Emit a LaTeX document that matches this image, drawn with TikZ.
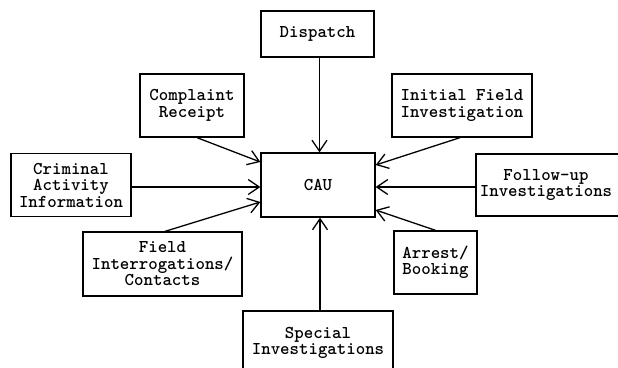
\documentclass[tikz,border=0pt]{standalone}
\usetikzlibrary{arrows.meta}
\begin{document}
\begin{tikzpicture}[x=1pt,y=-1pt,
  box/.style={draw=black, line width=1.3pt, fill=white, align=center,
    inner sep=0pt, font=\ttfamily\bfseries\fontsize{18}{16.5}\selectfont},
  arr/.style={line width=1.3pt, -{Straight Barb[length=11pt,width=15pt,line width=1.3pt]}}]
\useasboundingbox (0,0) rectangle (618,367);
\fill[white] (0,0) rectangle (618,367);

% surrounding activities
\node[box, minimum width=113pt, minimum height=46pt] (disp) at (317.5,34) {Dispatch};
\node[box, minimum width=104pt, minimum height=63pt] (comp) at (192,105.5) {Complaint\\Receipt};
\node[box, minimum width=140pt, minimum height=63pt] (init) at (462,105.5) {Initial Field\\Investigation};
\node[box, minimum width=120pt, minimum height=63pt] (crim) at (71,185) {Criminal\\Activity\\Information};
% this box runs past the right edge of the page; its text sits left of centre
\node[box, minimum width=170pt, minimum height=62pt] (foll) at (561,185)
  {\begin{tabular}{@{}c@{\hspace{30pt}}}Follow-up\\Investigations\end{tabular}};
\node[box, minimum width=159pt, minimum height=64pt] (fint) at (162.5,264) {Field\\Interrogations/\\Contacts};
\node[box, minimum width=83pt, minimum height=63pt] (arre) at (435.5,262.5) {Arrest/\\Booking};
\node[box, minimum width=150pt, minimum height=64pt] (spec) at (318,343) {Special\\Investigations};

% central unit
\node[box, minimum width=114pt, minimum height=64pt] (cau) at (318,185) {CAU};

% flows into the CAU
\draw[arr] ([xshift=2pt]disp.south) -- ([xshift=2pt]disp.south |- cau.north);
\draw[arr] ([xshift=5pt]comp.south) -- ([yshift=23pt]cau.west);
\draw[arr] ([xshift=-2pt]init.south) -- ([yshift=20pt]cau.east);
\draw[arr] ([yshift=-2pt]crim.east) -- ([yshift=-2pt]cau.west);
\draw[arr] ([yshift=-2pt]foll.west) -- ([yshift=-2pt]cau.east);
\draw[arr] ([xshift=2.5pt]fint.north) -- ([yshift=-17pt]cau.west);
\draw[arr] (arre.north) -- ([yshift=-25pt]cau.east);
\draw[arr] ([xshift=2pt]spec.north) -- ([xshift=2pt]spec.north |- cau.south);
\end{tikzpicture}
\end{document}
